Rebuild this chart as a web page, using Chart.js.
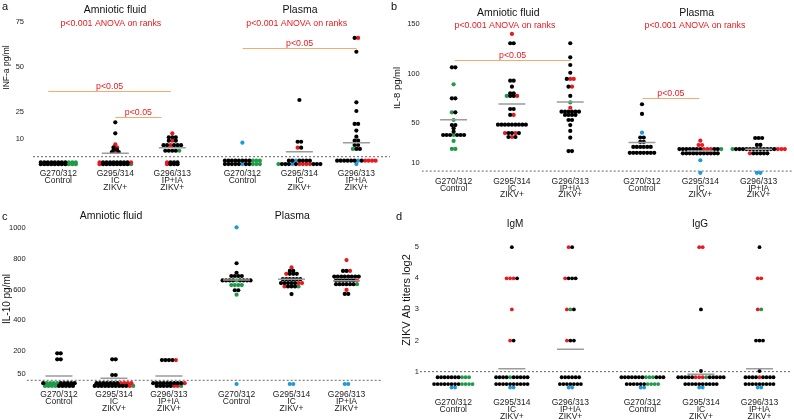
<!DOCTYPE html>
<html>
<head>
<meta charset="utf-8">
<script src="https://cdn.jsdelivr.net/npm/chart.js@4.4.1/dist/chart.umd.min.js"></script>
<style>
  html, body { margin: 0; padding: 0; background: #fff; }
  #wrap { position: relative; width: 794px; height: 420px; overflow: hidden; }
  canvas { position: absolute; }
</style>
</head>
<body>
<div id="wrap">
  <canvas id="panel-a"></canvas>
  <canvas id="panel-b"></canvas>
  <canvas id="panel-c"></canvas>
  <canvas id="panel-d"></canvas>
</div>
<script>
// categories (same three groups for each sample type)
const categories = [
  ['G270/312', 'Control'],
  ['G295/314', 'IC', 'ZIKV+'],
  ['G296/313', 'IP+IA', 'ZIKV+']
];

// each row = [value, animals]; k = black, r = red, g = green, b = blue
// values under the detection line are the "not detected" rows
const infAmniotic = [
  [[-3.2, 'kkkkkkkkggg'], [-4.2, 'kkkkkkkkggg']],
  [[19.1, 'k'], [13, 'k'], [6.9, 'r'], [5.2, 'kr'], [3.9, 'kk'], [2.6, 'krk'], [-3.2, 'rkkkkkkkkr'], [-4.2, 'rkkkkkkkkg']],
  [[13, 'r'], [10.8, 'kkk'], [8.9, 'krk'], [6.4, 'kkrkkk'], [3.3, 'kkkkg'], [-3.2, 'rkkk'], [-4.2, 'rkkk']]
];
const infPlasma = [
  [[7.8, 'b'], [-2.2, 'kkkkkkkkggg'], [-4.1, 'kkkkkbkkggg']],
  [[31.5, 'k'], [8.3, 'kk'], [5, 'rk'], [-2.2, 'kkbkkkk'], [-4.1, 'gkkkbkrrrrkkk']],
  [[66, 'kr'], [58.3, 'k'], [30.2, 'k'], [25.4, 'k'], [18.2, 'kk'], [14.5, 'k'], [11.1, 'k'], [8.9, 'kk'], [6.5, 'kk'], [4.3, 'gkk'], [-2.2, 'kkkkkkbkrrrr'], [-4.1, 'b']]
];
const infMeans = [null, 1.9, 5.0, null, 2.8, 7.8];
const infTicks = [10, 25, 50, 75];

const il8Amniotic = [
  [[106.5, 'kk'], [89.3, 'g'], [75.1, 'kk'], [61, 'gk'], [53.2, 'g'], [48.1, 'kk'], [44.8, 'k'], [41.4, 'k'], [38, 'kkkgkkk'], [32, 'g'], [23.9, 'gg']],
  [[140.2, 'r'], [130.8, 'kk'], [93, 'kk'], [86.9, 'k'], [80.2, 'kk'], [77.5, 'gkkr'], [64.3, 'kk'], [58.3, 'kr'], [48.5, 'kkkkkkkkk'], [40, 'rkkrk'], [36, 'krk']],
  [[130.8, 'k'], [116.6, 'k'], [108.8, 'k'], [101, 'k'], [94.7, 'krr'], [86.9, 'kr'], [77.5, 'k'], [71, 'g'], [65.6, 'r'], [61.6, 'kkkkkk'], [58.3, 'kkkk'], [53.2, 'kk'], [48.1, 'k'], [42.1, 'k'], [35.3, 'k'], [21.8, 'kk']]
];
const il8Plasma = [
  [[69.1, 'k'], [59.3, 'k'], [40.4, 'b'], [35.5, 'kk'], [31, 'kk'], [26, 'kkkkkk'], [20, 'kkkkkkkk']],
  [[32.3, 'r'], [27.9, 'rr'], [23.8, 'kkkkkkkrrrkkg'], [19.5, 'kkkkkkkkkkk'], [12.5, 'b'], [-0.2, 'b']],
  [[35, 'kkk'], [28, 'kk'], [23.8, 'gkkkkkkkkkkkkrrr'], [19.5, 'rkkkkk'], [-0.2, 'bb']]
];
const il8Means = [53.5, 69.4, 71.5, 30.4, 21.8, 23.7];
const il8Ticks = [10, 50, 100, 150];

const il10Amniotic = [
  [[185, 'kk'], [146, 'kk'], [-10, 'kggggkkkkk'], [-28, 'ggggkkkkk']],
  [[146, 'kk'], [43.5, 'kk'], [-10, 'kkkkkkkrrrr'], [-28, 'kkkkkkkkkkrg']],
  [[141, 'kkkkr'], [-10, 'kkkkkkkkkr'], [-28, 'kkkkkrrg']]
];
const il10Plasma = [
  [[1006, 'b'], [772, 'k'], [710, 'k'], [689, 'kkkk'], [660, 'kkkkgkkkk'], [630, 'gggg'], [596, 'kk'], [567, 'g'], [-15, 'b']],
  [[745, 'r'], [722, 'kk'], [703, 'rkkk'], [668, 'kkkkkk'], [643, 'kkkkkrr'], [621, 'rkkkg'], [571, 'k'], [-15, 'bb']],
  [[793, 'r'], [722, 'kkr'], [685, 'kkkkkkkk'], [659, 'kkkkkkr'], [635, 'kkkkkkg'], [598, 'r'], [572, 'kk'], [-15, 'bb']]
];
const il10Means = [37, 22, 37, 663, 667, 658];
const il10Ticks = [50, 200, 400, 600, 800, 1000];

const igm = [
  [[0.82, 'kkkkkkkggg'], [0.6, 'kkkkkkkkgggg'], [0.49, 'bb']],
  [[5, 'k'], [4, 'rrrk'], [3, 'r'], [2, 'rk'], [0.82, 'kkkkgkkkkk'], [0.6, 'kkkkkkkkkk'], [0.49, 'bb']],
  [[5, 'rk'], [4, 'rkkk'], [3, 'rgk'], [2, 'rkk'], [0.82, 'kkkkkk'], [0.6, 'kkkkkkk'], [0.49, 'bb']]
];
const igg = [
  [[0.82, 'kkkkkkkgggkkk'], [0.6, 'kkkkkkgggg'], [0.49, 'bb']],
  [[5, 'rr'], [3, 'k'], [1.02, 'k'], [0.82, 'kkkkkrrrgkkkkk'], [0.6, 'kkkkkkkkkk'], [0.49, 'bb']],
  [[5, 'k'], [4, 'rr'], [3, 'rg'], [2, 'kkk'], [1.02, 'k'], [0.82, 'kkkkrkkkk'], [0.6, 'kkkkkkkkk'], [0.49, 'bb']]
];
const titerMeans = [null, 1.09, 1.72, null, 0.92, 1.09];
const titerTicks = [1, 2, 3, 4, 5];

const FONT = '"Liberation Sans", Arial, sans-serif';
const RED = '#e8191f';
const colorOf = { k: '#000000', r: '#e8191f', g: '#1f9a48', b: '#1f9ad8' };

function catPos(i) {
  return i + (i >= 3 ? 0.23 : 0);
}

// spread dots with equal value side by side around the category
function buildPoints(groups, step) {
  const out = { k: [], r: [], g: [], b: [] };
  groups.forEach(function (rows, i) {
    const c = catPos(i);
    rows.forEach(function (row) {
      const v = row[0], codes = row[1], n = codes.length;
      for (let j = 0; j < n; j++) {
        out[codes[j]].push({ x: c + (j - (n - 1) / 2) * step, y: v });
      }
    });
  });
  return out;
}

function meanSegments(means, half) {
  const pts = [];
  means.forEach(function (m, i) {
    if (m === null) return;
    const c = catPos(i);
    pts.push({ x: c - half, y: m }, { x: c + half, y: m }, { x: c + half, y: null });
  });
  return pts;
}

const panels = [
  {
    id: 'panel-a', left: 0, top: 0, w: 397, h: 205,
    area: { l: 33, r: 390, t: 14, b: 168 },
    x: [-0.444, 5.82], y: [-6.28, 79.28], lod: 0, yTicks: infTicks,
    groups: infAmniotic.concat(infPlasma), means: infMeans,
    yPad: 9, xPad: 2.5, dot: 2.1,
    texts: [
      { t: 'a', x: 2, y: 7, size: 11, align: 'left' },
      { t: 'Amniotic fluid', x: 115, y: 10, size: 10.5 },
      { t: 'Plasma', x: 300, y: 10, size: 10.5 },
      { t: 'p<0.001 ANOVA on ranks', x: 110.8, y: 24, size: 8.8, color: RED },
      { t: 'p<0.001 ANOVA on ranks', x: 296.7, y: 24, size: 8.8, color: RED },
      { t: 'INF-a pg/ml', x: 7, y: 67.5, size: 8.5, rot: true }
    ],
    pLines: [[-0.175, 1.976, 36.7], [1.0, 1.81, 22.2], [3.235, 5.235, 60.2]]
  },
  {
    id: 'panel-b', left: 385, top: 0, w: 409, h: 205,
    area: { l: 36.7, r: 408, t: 14, b: 176 },
    x: [-0.547, 5.8], y: [-3.45, 160.4], lod: 1.5, yTicks: il8Ticks,
    groups: il8Amniotic.concat(il8Plasma), means: il8Means,
    yPad: 2, xPad: 2, dot: 2.1,
    texts: [
      { t: 'b', x: 391, y: 7, size: 11, align: 'left' },
      { t: 'Amniotic fluid', x: 508.3, y: 12.7, size: 10.5 },
      { t: 'Plasma', x: 696.7, y: 13.3, size: 10.5 },
      { t: 'p<0.001 ANOVA on ranks', x: 505, y: 26, size: 8.8, color: RED },
      { t: 'p<0.001 ANOVA on ranks', x: 695, y: 26, size: 8.8, color: RED },
      { t: 'IL-8 pg/ml', x: 397, y: 88, size: 9.5, rot: true }
    ],
    pLines: [[0.02, 2.005, 113.6], [3.24, 4.21, 75.1]]
  },
  {
    id: 'panel-c', left: 0, top: 205, w: 397, h: 215,
    area: { l: 26.7, r: 381.7, t: 17, b: 181 },
    x: [-0.587, 5.87], y: [-28.2, 1041], lod: 9, yTicks: il10Ticks,
    groups: il10Amniotic.concat(il10Plasma), means: il10Means,
    yPad: 1, xPad: 5.2, dot: 2.1,
    texts: [
      { t: 'c', x: 2, y: 217, size: 11, align: 'left' },
      { t: 'Amniotic fluid', x: 111, y: 216, size: 10.5 },
      { t: 'Plasma', x: 292.3, y: 216, size: 10.5 },
      { t: 'IL-10 pg/ml', x: 7, y: 299, size: 10, rot: true }
    ],
    pLines: []
  },
  {
    id: 'panel-d', left: 390, top: 205, w: 404, h: 215,
    area: { l: 30, r: 401.7, t: 17, b: 185 },
    x: [-0.569, 5.78], y: [0.41, 5.81], lod: 1, yTicks: titerTicks,
    groups: igm.concat(igg), means: titerMeans,
    yPad: 1, xPad: 9.5, dot: 1.9,
    texts: [
      { t: 'd', x: 396, y: 217, size: 11, align: 'left' },
      { t: 'IgM', x: 515, y: 224, size: 10 },
      { t: 'IgG', x: 700, y: 224, size: 10 },
      { t: 'ZIKV Ab titers log2', x: 406.7, y: 300, size: 11, rot: true }
    ],
    pLines: []
  }
];

// titles, panel letters and p-value bars
const panelText = {
  id: 'panelText',
  afterDraw(chart, args, opts) {
    const ctx = chart.ctx;
    const xs = chart.scales.x, ys = chart.scales.y;
    ctx.save();
    opts.pLines.forEach(function (pl) {
      const x0 = xs.getPixelForValue(pl[0]);
      const x1 = xs.getPixelForValue(pl[1]);
      const y = Math.round(ys.getPixelForValue(pl[2])) + 0.5;
      ctx.strokeStyle = '#f6aa6c';
      ctx.lineWidth = 1;
      ctx.beginPath();
      ctx.moveTo(x0, y);
      ctx.lineTo(x1, y);
      ctx.stroke();
      ctx.fillStyle = RED;
      ctx.font = '8.8px ' + FONT;
      ctx.textAlign = 'center';
      ctx.textBaseline = 'middle';
      ctx.fillText('p<0.05', (x0 + x1) / 2, y - 4.5);
    });
    opts.texts.forEach(function (t) {
      ctx.save();
      ctx.translate(t.x - opts.left, t.y - opts.top);
      if (t.rot) ctx.rotate(-Math.PI / 2);
      ctx.fillStyle = t.color || '#111';
      ctx.font = t.size + 'px ' + FONT;
      ctx.textAlign = t.align || 'center';
      ctx.textBaseline = 'middle';
      ctx.fillText(t.t, 0, 0);
      ctx.restore();
    });
    ctx.restore();
  }
};

panels.forEach(function (p) {
  const cv = document.getElementById(p.id);
  cv.width = p.w;
  cv.height = p.h;
  cv.style.left = p.left + 'px';
  cv.style.top = p.top + 'px';
  cv.style.width = p.w + 'px';
  cv.style.height = p.h + 'px';

  const ppu = (p.area.r - p.area.l) / (p.x[1] - p.x[0]);
  const pts = buildPoints(p.groups, 3.5 / ppu);
  const dotSets = ['k', 'r', 'g', 'b'].map(function (code) {
    return {
      data: pts[code],
      backgroundColor: colorOf[code],
      borderWidth: 0,
      pointRadius: p.dot,
      pointHoverRadius: p.dot,
      clip: false,
      order: 1
    };
  });

  new Chart(cv, {
    type: 'scatter',
    data: {
      datasets: [
        {
          data: [{ x: p.x[0], y: p.lod }, { x: p.x[1], y: p.lod }],
          showLine: true, borderColor: '#666', borderWidth: 1, borderDash: [2, 2],
          pointRadius: 0, order: 3
        },
        {
          data: meanSegments(p.means, 13.5 / ppu),
          showLine: true, spanGaps: false, borderColor: '#9c9c9c', borderWidth: 1.5,
          pointRadius: 0, order: 0
        }
      ].concat(dotSets)
    },
    options: {
      responsive: false,
      animation: false,
      devicePixelRatio: 1,
      layout: { padding: { top: p.area.t, right: p.w - p.area.r, left: 0, bottom: 0 } },
      plugins: {
        legend: { display: false },
        tooltip: { enabled: false },
        panelText: { texts: p.texts, pLines: p.pLines, left: p.left, top: p.top }
      },
      scales: {
        x: {
          type: 'linear', min: p.x[0], max: p.x[1],
          grid: { display: false, drawTicks: false },
          border: { display: false },
          afterFit: function (s) { s.height = p.h - p.area.b; },
          afterBuildTicks: function (s) {
            s.ticks = [0, 1, 2, 3, 4, 5].map(function (i) { return { value: catPos(i) }; });
          },
          ticks: {
            autoSkip: false, maxRotation: 0, minRotation: 0, padding: p.xPad, color: '#222',
            font: { family: FONT, size: 8.5, lineHeight: 0.8 },
            callback: function (v, i) { return categories[i % 3]; }
          }
        },
        y: {
          type: 'linear', min: p.y[0], max: p.y[1],
          grid: { display: false, drawTicks: false },
          border: { display: false },
          afterFit: function (s) { s.width = p.area.l; },
          afterBuildTicks: function (s) {
            s.ticks = p.yTicks.map(function (v) { return { value: v }; });
          },
          ticks: {
            padding: p.yPad, color: '#222', font: { family: FONT, size: 7.5 },
            callback: function (v) { return String(v); }
          }
        }
      }
    },
    plugins: [panelText]
  });
});
</script>
</body>
</html>
